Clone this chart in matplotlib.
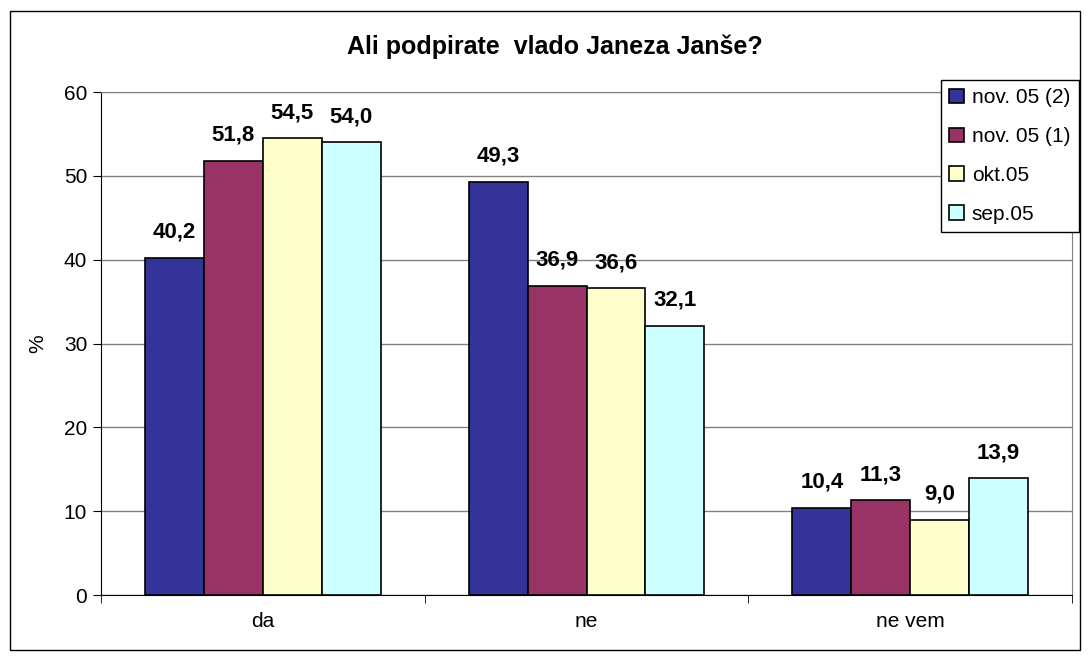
import numpy as np
import matplotlib.pyplot as plt
from matplotlib.patches import Rectangle

categories = ['da', 'ne', 'ne vem']
series_names = ['nov. 05 (2)', 'nov. 05 (1)', 'okt.05', 'sep.05']
nov05_2 = [40.2, 49.3, 10.4]
nov05_1 = [51.8, 36.9, 11.3]
okt05 = [54.5, 36.6, 9.0]
sep05 = [54.0, 32.1, 13.9]
colors = ['#333399', '#993366', '#FFFFCC', '#CCFFFF']

plt.rcParams['font.family'] = ['Liberation Sans', 'DejaVu Sans']

fig = plt.figure(figsize=(10.9, 6.62), dpi=100)
ax = fig.add_axes([0.0927, 0.1012, 0.8908, 0.7598])

x = np.arange(len(categories))
w = 0.182
for i, (vals, name) in enumerate(zip([nov05_2, nov05_1, okt05, sep05], series_names)):
    pos = x + (i - 1.5) * w
    ax.bar(pos, vals, w, color=colors[i], edgecolor='black', linewidth=1.2,
           label=name, zorder=3)
    for p, v in zip(pos, vals):
        ax.text(p, v + 1.8, f'{v:.1f}'.replace('.', ','), ha='center', va='bottom',
                fontsize=16, fontweight='bold', zorder=4)

ax.set_xlim(-0.5, 2.5)
ax.set_ylim(0, 60)
ax.set_yticks(range(0, 61, 10))
ax.yaxis.grid(True, color='#808080', linewidth=1, zorder=0)
ax.set_xticks(x)
ax.set_xticklabels(categories)
ax.set_xticks([-0.5, 0.5, 1.5, 2.5], minor=True)
ax.tick_params(axis='x', which='major', length=0, pad=12, labelsize=15)
ax.tick_params(axis='x', which='minor', length=6, direction='out', color='black')
ax.tick_params(axis='y', length=6, direction='out', labelsize=15, pad=4)
ax.spines['left'].set_color('black')
ax.spines['bottom'].set_color('black')
ax.spines['top'].set_color('#808080')
ax.spines['right'].set_color('#808080')
ax.set_ylabel('%', fontsize=15, labelpad=12)

fig.text(0.509, 0.929, 'Ali podpirate  vlado Janeza Janše?', ha='center', va='center',
         fontsize=18, fontweight='bold')

leg = fig.legend(loc='upper left', bbox_to_anchor=(0.863, 0.879), fontsize=15,
                 frameon=True, fancybox=False, edgecolor='black', framealpha=1,
                 handlelength=0.7, handleheight=0.7, handletextpad=0.4,
                 labelspacing=0.95, borderpad=0.4, borderaxespad=0)
leg.get_frame().set_linewidth(1)

fig.patches.append(Rectangle((0.009, 0.018), 0.982, 0.965, transform=fig.transFigure,
                             fill=False, edgecolor='black', linewidth=1))

plt.savefig('out.png', dpi=100)
